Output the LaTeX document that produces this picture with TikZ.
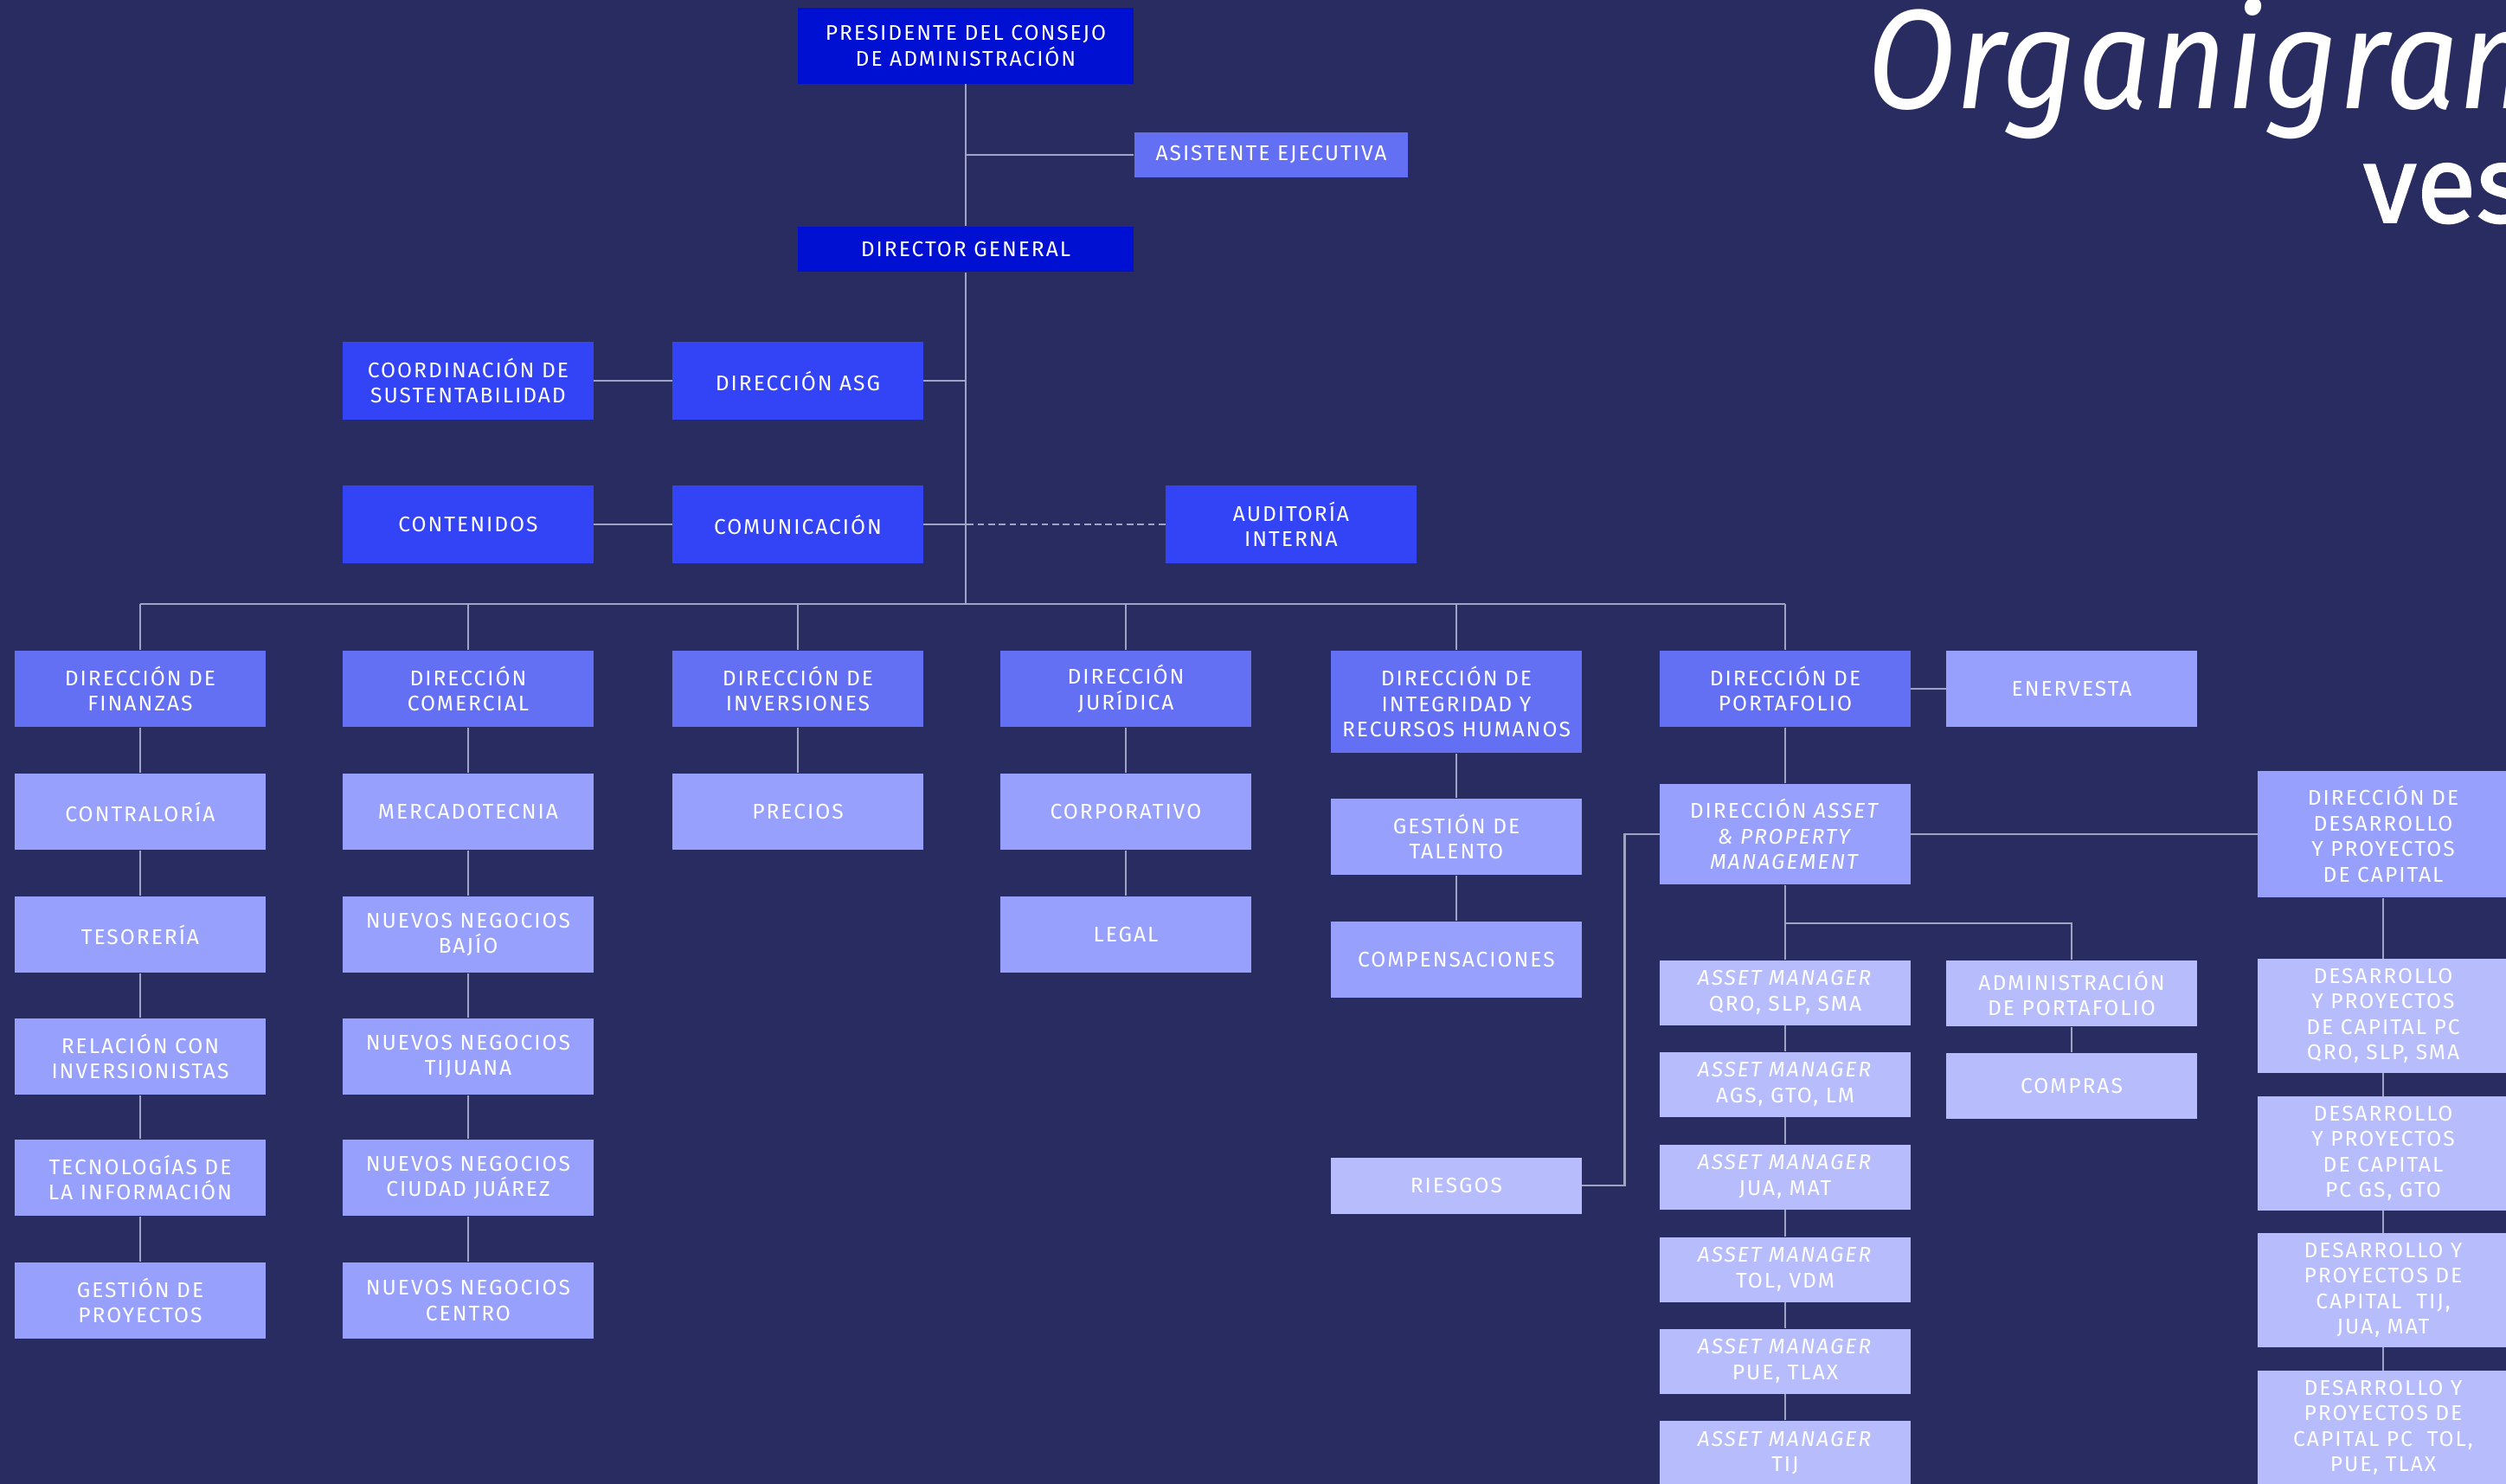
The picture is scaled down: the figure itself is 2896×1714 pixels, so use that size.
\documentclass[tikz,border=0pt]{standalone}
\usepackage{fontspec}
\newfontfamily\boxfont{Fira Sans}[LetterSpace=8]
\newfontfamily\titlefont{Fira Sans}[FakeStretch=0.92]
\newfontfamily\logofont{Fira Sans}[FakeBold=1.3]
\definecolor{bg}{HTML}{282C61}
\definecolor{cA}{HTML}{0010D2}
\definecolor{cB}{HTML}{3343F6}
\definecolor{cC}{HTML}{6470F4}
\definecolor{cD}{HTML}{97A0FD}
\definecolor{cE}{HTML}{B7BCFD}
\definecolor{ln}{HTML}{A0A3C4}
\tikzset{
  box/.style={fill=#1, text=white, align=center, inner sep=0pt,
    font=\boxfont\fontsize{7}{8.4}\selectfont},
  wbox/.style={minimum width=2.89cm, minimum height=0.88cm},
  conn/.style={draw=ln, line width=0.8pt},
}
\begin{document}
\begin{tikzpicture}[x=0.01cm, y=-0.01cm]
\useasboundingbox (0,0) rectangle (2896,1714);
\clip (0,0) rectangle (2896,1714);
\fill[bg] (-5,-5) rectangle (2901,1719);

% title
\node[anchor=base west, inner sep=0pt, text=white, font=\titlefont\itshape\fontsize{46.5}{50}\selectfont] (title) at (2157,125) {Organigrama};
\node[anchor=base west, inner sep=0pt, text=white, font=\logofont\fontsize{36}{40}\selectfont] (logo) at (2730,257) {vesta};

% top
\node[box=cA, minimum width=3.87cm, minimum height=0.87cm] (pres) at (1116,53) {PRESIDENTE DEL CONSEJO\\DE ADMINISTRACIÓN};
\node[box=cC, minimum width=3.16cm, minimum height=0.52cm] (asis) at (1469,179) {ASISTENTE EJECUTIVA};
\node[box=cA, minimum width=3.87cm, minimum height=0.52cm] (dg) at (1116,288) {DIRECTOR GENERAL};
\node[box=cB, wbox, minimum height=0.89cm] (coord) at (541,440) {COORDINACIÓN DE\\SUSTENTABILIDAD};
\node[box=cB, wbox, minimum height=0.89cm] (asg) at (922,440) {DIRECCIÓN ASG};
\node[box=cB, wbox, minimum height=0.89cm] (cont) at (541,606) {CONTENIDOS};
\node[box=cB, wbox, minimum height=0.89cm] (comu) at (922,606) {COMUNICACIÓN};
\node[box=cB, wbox, minimum height=0.89cm] (audit) at (1492,606) {AUDITORÍA\\INTERNA};

% level 2
\node[box=cC, wbox] (fin) at (162,796) {DIRECCIÓN DE\\FINANZAS};
\node[box=cC, wbox] (com) at (541,796) {DIRECCIÓN\\COMERCIAL};
\node[box=cC, wbox] (inv) at (922,796) {DIRECCIÓN DE\\INVERSIONES};
\node[box=cC, wbox] (jur) at (1301,796) {DIRECCIÓN\\JURÍDICA};
\node[box=cC, wbox, minimum height=1.18cm] (integ) at (1683,811) {DIRECCIÓN DE\\INTEGRIDAD Y\\RECURSOS HUMANOS};
\node[box=cC, wbox] (port) at (2063,796) {DIRECCIÓN DE\\PORTAFOLIO};
\node[box=cD, wbox] (ener) at (2394,796) {ENERVESTA};

% finanzas column
\node[box=cD, wbox] (contra) at (162,938) {CONTRALORÍA};
\node[box=cD, wbox] (teso) at (162,1080) {TESORERÍA};
\node[box=cD, wbox] (relinv) at (162,1221) {RELACIÓN CON\\INVERSIONISTAS};
\node[box=cD, wbox] (tec) at (162,1361) {TECNOLOGÍAS DE\\LA INFORMACIÓN};
\node[box=cD, wbox] (gproy) at (162,1503) {GESTIÓN DE\\PROYECTOS};

% comercial column
\node[box=cD, wbox] (merc) at (541,938) {MERCADOTECNIA};
\node[box=cD, wbox] (nnb) at (541,1080) {NUEVOS NEGOCIOS\\BAJÍO};
\node[box=cD, wbox] (nnt) at (541,1221) {NUEVOS NEGOCIOS\\TIJUANA};
\node[box=cD, wbox] (nnj) at (541,1361) {NUEVOS NEGOCIOS\\CIUDAD JUÁREZ};
\node[box=cD, wbox] (nnc) at (541,1503) {NUEVOS NEGOCIOS\\CENTRO};

% inversiones, juridica
\node[box=cD, wbox] (prec) at (922,938) {PRECIOS};
\node[box=cD, wbox] (corp) at (1301,938) {CORPORATIVO};
\node[box=cD, wbox] (legal) at (1301,1080) {LEGAL};

% integridad
\node[box=cD, wbox] (tal) at (1683,967) {GESTIÓN DE\\TALENTO};
\node[box=cD, wbox] (compen) at (1683,1109) {COMPENSACIONES};
\node[box=cE, wbox, minimum height=0.65cm] (ries) at (1683,1370) {RIESGOS};

% portafolio
\node[box=cD, wbox, minimum height=1.16cm] (asset) at (2063,964) {DIRECCIÓN \textit{ASSET}\\\textit{\& PROPERTY}\\\textit{MANAGEMENT}};
\node[box=cD, wbox, minimum height=1.46cm] (dev) at (2754,964) {DIRECCIÓN DE\\DESARROLLO\\Y PROYECTOS\\DE CAPITAL};
\node[box=cE, wbox, minimum height=0.75cm] (am1) at (2063,1147) {\textit{ASSET MANAGER}\\QRO, SLP, SMA};
\node[box=cE, wbox, minimum height=0.75cm] (am2) at (2063,1253) {\textit{ASSET MANAGER}\\AGS, GTO, LM};
\node[box=cE, wbox, minimum height=0.75cm] (am3) at (2063,1360) {\textit{ASSET MANAGER}\\JUA, MAT};
\node[box=cE, wbox, minimum height=0.75cm] (am4) at (2063,1467) {\textit{ASSET MANAGER}\\TOL, VDM};
\node[box=cE, wbox, minimum height=0.75cm] (am5) at (2063,1573) {\textit{ASSET MANAGER}\\PUE, TLAX};
\node[box=cE, wbox, minimum height=0.75cm] (am6) at (2063,1679) {\textit{ASSET MANAGER}\\TIJ};
\node[box=cE, wbox, minimum height=0.76cm] (admin) at (2394,1148) {ADMINISTRACIÓN\\DE PORTAFOLIO};
\node[box=cE, wbox, minimum height=0.76cm] (compras) at (2394,1255) {COMPRAS};
\node[box=cE, wbox, minimum height=1.31cm] (dyp1) at (2754,1174) {DESARROLLO\\Y PROYECTOS\\DE CAPITAL PC\\QRO, SLP, SMA};
\node[box=cE, wbox, minimum height=1.31cm] (dyp2) at (2754,1333) {DESARROLLO\\Y PROYECTOS\\DE CAPITAL\\PC GS, GTO};
\node[box=cE, wbox, minimum height=1.31cm] (dyp3) at (2754,1491) {DESARROLLO Y\\PROYECTOS DE\\CAPITAL\ \ TIJ,\\JUA, MAT};
\node[box=cE, wbox, minimum height=1.31cm] (dyp4) at (2754,1650) {DESARROLLO Y\\PROYECTOS DE\\CAPITAL PC\ \ TOL,\\PUE, TLAX};

% connectors
\coordinate (busL) at (162,698);
\coordinate (busR) at (2063,698);
\coordinate (br) at (2063,1067);
\draw[conn] (pres.south) -- (dg.north);
\draw[conn] (dg.south) -- (dg.south |- busL);
\draw[conn] (asis.west) -- (asis.west -| pres.south);
\draw[conn] (asg.east) -- (asg.east -| dg.south);
\draw[conn] (comu.east) -- (comu.east -| dg.south);
\draw[conn] (coord) -- (asg);
\draw[conn] (cont) -- (comu);
\draw[conn, dash pattern=on 2.2pt off 1.3pt] (audit.west) -- (audit.west -| dg.south);
\draw[conn] (busL) -- (busR);
\foreach \n in {fin,com,inv,jur,integ,port}
  \draw[conn] (\n.north) -- (\n.north |- busL);
\draw[conn] (fin) -- (contra) -- (teso) -- (relinv) -- (tec) -- (gproy);
\draw[conn] (com) -- (merc) -- (nnb) -- (nnt) -- (nnj) -- (nnc);
\draw[conn] (inv) -- (prec);
\draw[conn] (jur) -- (corp) -- (legal);
\draw[conn] (integ) -- (tal) -- (compen);
\draw[conn] (port) -- (ener);
\draw[conn] (port) -- (asset);
\draw[conn] (asset) -- (dev);
\draw[conn] (ries.east) -- ++(49,0) |- (asset.west);
\draw[conn] (asset) -- (am1) -- (am2) -- (am3) -- (am4) -- (am5) -- (am6);
\draw[conn] (br) -| (admin.north);
\draw[conn] (admin) -- (compras);
\draw[conn] (dev) -- (dyp1) -- (dyp2) -- (dyp3) -- (dyp4);
\end{tikzpicture}
\end{document}
